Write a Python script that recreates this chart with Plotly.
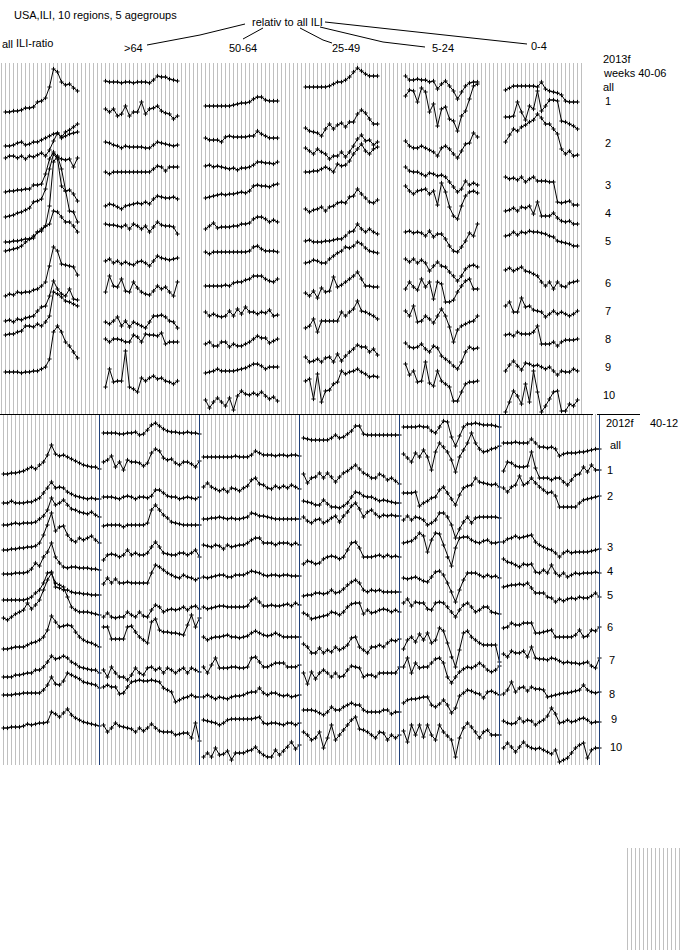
import plotly.graph_objects as go

# USA ILI, 10 regions, ILI share of each agegroup relative to all ILI
AGE_GROUPS = ["all", ">64", "50-64", "25-49", "5-24", "0-4"]
REGIONS = ["all"] + [str(r) for r in range(1, 11)]
WEEKS_2013F = list(range(40, 53)) + list(range(1, 7))
WEEKS_2012F = list(range(40, 53)) + list(range(1, 13))

# levels, one row per region (all, 1..10)
# season 2013f, weeks 40-06
top_all_ili = [
    [302, 302, 303, 303, 304, 306, 306, 307, 312, 313, 316, 327, 345, 342, 332, 329, 330, 326, 323],
    [268, 268, 269, 271, 272, 269, 270, 272, 272, 274, 276, 278, 280, 281, 277, 282, 284, 287, 290],
    [256, 258, 258, 256, 258, 255, 258, 257, 259, 261, 258, 264, 273, 281, 276, 278, 280, 281, 282],
    [222, 223, 223, 224, 224, 225, 225, 229, 229, 230, 240, 255, 262, 257, 255, 254, 255, 247, 256],
    [197, 198, 199, 201, 202, 204, 206, 212, 213, 215, 225, 245, 260, 255, 228, 223, 224, 220, 213],
    [172, 172, 173, 173, 174, 175, 175, 176, 182, 183, 188, 208, 252, 258, 245, 223, 203, 202, 192],
    [163, 164, 165, 166, 168, 172, 175, 178, 182, 185, 188, 190, 203, 202, 197, 192, 192, 188, 182],
    [118, 120, 119, 122, 121, 122, 122, 124, 125, 128, 132, 148, 167, 163, 150, 149, 148, 147, 139],
    [93, 94, 92, 95, 94, 96, 97, 98, 103, 107, 108, 118, 133, 125, 120, 118, 125, 115, 114],
    [79, 80, 80, 82, 83, 88, 88, 87, 90, 88, 92, 98, 122, 120, 117, 113, 112, 110, 108],
    [42, 42, 42, 42, 41, 42, 42, 43, 43, 45, 47, 55, 82, 88, 82, 72, 68, 62, 56],
]
top_65 = [
    [333, 332, 332, 332, 331, 332, 332, 331, 332, 332, 332, 331, 334, 338, 337, 337, 335, 334, 333],
    [305, 302, 305, 298, 300, 308, 298, 302, 302, 312, 300, 305, 306, 308, 303, 301, 300, 295, 298],
    [272, 271, 269, 268, 266, 268, 267, 267, 267, 267, 266, 266, 269, 272, 271, 270, 269, 268, 269],
    [242, 240, 242, 242, 242, 242, 242, 242, 242, 242, 242, 242, 245, 248, 247, 243, 247, 247, 247],
    [208, 210, 209, 207, 205, 208, 209, 210, 211, 210, 212, 210, 215, 218, 217, 216, 216, 217, 215],
    [190, 189, 189, 188, 187, 189, 185, 190, 188, 185, 188, 182, 187, 192, 189, 188, 188, 187, 180],
    [153, 155, 151, 153, 150, 152, 150, 149, 152, 153, 151, 148, 153, 158, 156, 155, 154, 155, 156],
    [122, 138, 128, 127, 135, 123, 122, 132, 126, 122, 120, 119, 123, 128, 125, 127, 122, 118, 132],
    [92, 90, 93, 97, 88, 93, 87, 92, 90, 88, 86, 92, 98, 98, 99, 97, 93, 92, 86],
    [75, 72, 75, 75, 74, 72, 72, 79, 77, 72, 80, 79, 79, 78, 81, 70, 72, 72, 72],
    [27, 45, 32, 33, 33, 63, 27, 25, 22, 36, 33, 36, 38, 35, 36, 33, 32, 30, 33],
]
top_50_64 = [
    [308, 308, 308, 308, 308, 308, 308, 309, 310, 311, 311, 312, 315, 317, 317, 314, 313, 313, 313],
    [276, 274, 274, 274, 272, 277, 278, 277, 277, 277, 277, 278, 278, 283, 280, 278, 276, 276, 276],
    [248, 249, 247, 248, 247, 246, 245, 246, 244, 246, 246, 247, 249, 252, 252, 251, 251, 250, 252],
    [216, 217, 218, 219, 220, 219, 220, 220, 221, 222, 221, 223, 228, 229, 228, 228, 227, 229, 230],
    [185, 188, 191, 186, 187, 187, 187, 188, 188, 190, 190, 191, 195, 197, 197, 195, 192, 194, 192],
    [162, 160, 162, 162, 162, 162, 162, 162, 162, 162, 162, 163, 167, 168, 165, 163, 163, 163, 162],
    [128, 128, 128, 128, 128, 129, 128, 131, 132, 132, 134, 135, 138, 138, 138, 135, 133, 132, 135],
    [102, 98, 100, 98, 97, 98, 103, 98, 105, 100, 107, 102, 102, 100, 102, 101, 104, 98, 99],
    [70, 72, 68, 68, 72, 72, 67, 70, 68, 68, 70, 72, 75, 78, 76, 76, 71, 73, 75],
    [41, 42, 43, 45, 43, 43, 43, 43, 44, 45, 46, 48, 50, 50, 48, 45, 47, 47, 47],
    [14, 6, 12, 16, 12, 8, 16, 4, 18, 23, 20, 19, 21, 19, 22, 18, 15, 17, 13],
]
top_25_49 = [
    [327, 327, 327, 327, 327, 327, 328, 330, 332, 332, 334, 337, 342, 346, 343, 340, 338, 338, 338],
    [286, 283, 282, 281, 278, 285, 290, 285, 289, 291, 287, 292, 292, 300, 304, 301, 295, 290, 290],
    [266, 263, 260, 265, 262, 260, 255, 258, 258, 262, 257, 262, 268, 275, 279, 273, 274, 269, 272],
    [242, 242, 243, 243, 245, 247, 245, 242, 250, 248, 249, 253, 260, 265, 270, 263, 260, 265, 267],
    [205, 202, 204, 205, 207, 203, 207, 208, 211, 212, 211, 217, 218, 225, 220, 216, 212, 211, 214],
    [173, 174, 172, 172, 172, 173, 173, 174, 175, 175, 178, 182, 183, 190, 185, 182, 185, 182, 180],
    [151, 152, 154, 153, 151, 151, 155, 158, 161, 163, 167, 166, 168, 172, 170, 166, 163, 162, 161],
    [121, 118, 123, 116, 126, 122, 123, 137, 127, 129, 132, 135, 138, 142, 135, 128, 128, 127, 127],
    [86, 88, 95, 82, 93, 93, 93, 93, 93, 102, 98, 102, 105, 113, 103, 102, 100, 98, 95],
    [57, 52, 53, 55, 52, 56, 57, 52, 60, 53, 58, 62, 65, 69, 67, 67, 62, 65, 59],
    [33, 35, 15, 40, 12, 23, 24, 30, 32, 43, 40, 42, 43, 45, 42, 40, 37, 38, 37],
]
top_5_24 = [
    [338, 334, 334, 335, 334, 334, 332, 333, 325, 330, 333, 328, 323, 315, 322, 328, 331, 332, 332],
    [318, 324, 323, 312, 326, 322, 302, 310, 288, 305, 307, 295, 293, 283, 298, 303, 315, 328, 330],
    [273, 268, 266, 266, 268, 266, 264, 262, 258, 266, 268, 265, 260, 256, 263, 270, 271, 281, 277],
    [247, 243, 242, 242, 240, 238, 241, 240, 238, 239, 237, 232, 227, 222, 225, 233, 229, 231, 229],
    [228, 223, 220, 223, 224, 225, 220, 223, 209, 231, 222, 207, 198, 195, 208, 218, 222, 223, 221],
    [182, 183, 181, 182, 181, 178, 183, 177, 180, 180, 175, 168, 163, 162, 167, 173, 181, 178, 190],
    [155, 152, 155, 151, 154, 151, 143, 148, 152, 148, 147, 142, 138, 133, 138, 145, 148, 149, 147],
    [125, 132, 127, 124, 135, 127, 132, 115, 132, 130, 112, 112, 114, 122, 128, 133, 135, 125, 125],
    [103, 98, 108, 92, 93, 98, 95, 91, 98, 105, 98, 87, 72, 84, 88, 90, 92, 93, 98],
    [71, 67, 66, 67, 70, 65, 62, 68, 66, 58, 55, 52, 48, 45, 52, 62, 67, 65, 66],
    [50, 39, 43, 32, 33, 52, 31, 28, 43, 33, 30, 27, 13, 13, 22, 30, 32, 32, 33],
]
top_0_4 = [
    [324, 326, 328, 328, 328, 328, 328, 328, 327, 332, 325, 323, 322, 321, 319, 313, 312, 312, 312],
    [297, 297, 298, 312, 302, 294, 308, 305, 323, 303, 308, 314, 314, 313, 293, 292, 290, 288, 285],
    [272, 279, 285, 283, 287, 289, 292, 294, 300, 296, 290, 290, 285, 280, 265, 260, 263, 258, 259],
    [237, 235, 236, 234, 237, 232, 235, 237, 233, 233, 233, 232, 232, 212, 211, 212, 213, 209, 209],
    [203, 204, 206, 203, 207, 206, 208, 200, 212, 198, 198, 198, 201, 196, 193, 192, 193, 190, 190],
    [178, 179, 182, 179, 182, 181, 183, 182, 182, 181, 180, 178, 177, 173, 172, 171, 170, 168, 168],
    [144, 146, 143, 145, 147, 143, 142, 140, 138, 132, 128, 132, 125, 132, 128, 127, 131, 132, 133],
    [108, 112, 102, 102, 116, 107, 108, 104, 103, 102, 97, 100, 103, 100, 102, 100, 98, 100, 103],
    [79, 80, 78, 82, 80, 80, 80, 82, 88, 70, 70, 70, 72, 68, 72, 74, 74, 74, 75],
    [43, 49, 53, 48, 44, 51, 50, 48, 49, 47, 45, 47, 43, 39, 43, 42, 42, 45, 43],
    [2, 12, 23, 18, 10, 30, 12, 43, 22, 2, 8, 15, 22, 23, 3, 3, 10, 8, 14],
]

# season 2012f, weeks 40-12
bot_all_ili = [
    [291, 291, 292, 292, 293, 294, 296, 298, 296, 300, 303, 310, 320, 311, 309, 310, 308, 306, 304, 302, 300, 299, 298, 298, 296],
    [262, 262, 264, 262, 262, 262, 263, 263, 265, 267, 272, 277, 283, 277, 278, 277, 273, 271, 269, 268, 267, 266, 267, 266, 266],
    [240, 240, 241, 242, 241, 242, 242, 242, 243, 246, 249, 255, 267, 260, 262, 265, 260, 256, 255, 253, 252, 251, 253, 250, 248],
    [215, 215, 216, 216, 217, 217, 218, 218, 219, 222, 230, 240, 252, 234, 238, 239, 230, 225, 223, 227, 225, 227, 229, 225, 222],
    [191, 191, 191, 192, 192, 192, 193, 196, 202, 199, 208, 213, 222, 208, 202, 198, 197, 198, 198, 197, 197, 197, 196, 196, 195],
    [165, 165, 165, 165, 165, 165, 166, 168, 172, 175, 182, 192, 193, 178, 177, 175, 175, 173, 172, 172, 171, 171, 170, 170, 170],
    [147, 145, 148, 151, 153, 155, 162, 156, 160, 165, 175, 185, 192, 182, 180, 178, 168, 158, 155, 153, 153, 153, 152, 151, 150],
    [116, 116, 117, 118, 118, 118, 120, 122, 123, 125, 128, 135, 149, 143, 138, 139, 140, 139, 133, 128, 125, 123, 122, 120, 118],
    [88, 88, 88, 90, 90, 91, 92, 92, 95, 95, 98, 103, 109, 106, 107, 109, 107, 103, 101, 98, 97, 96, 95, 95, 92],
    [70, 70, 70, 71, 71, 72, 72, 72, 72, 72, 75, 80, 88, 81, 80, 84, 92, 90, 88, 86, 83, 82, 81, 80, 77],
    [37, 37, 38, 38, 38, 39, 41, 40, 41, 42, 42, 43, 53, 51, 48, 52, 56, 50, 47, 45, 43, 42, 41, 40, 39],
]
bot_65 = [
    [332, 332, 332, 332, 331, 331, 332, 332, 333, 330, 331, 335, 340, 342, 339, 336, 334, 333, 333, 332, 332, 333, 332, 332, 331],
    [303, 305, 309, 298, 303, 295, 305, 303, 303, 302, 299, 302, 312, 316, 314, 307, 305, 306, 302, 300, 303, 303, 301, 298, 304],
    [268, 268, 268, 267, 266, 268, 269, 268, 266, 268, 268, 267, 269, 275, 275, 272, 269, 268, 268, 266, 267, 268, 267, 266, 268],
    [239, 240, 240, 240, 240, 238, 240, 240, 240, 240, 240, 242, 255, 260, 255, 250, 247, 243, 242, 241, 240, 240, 240, 240, 240],
    [205, 210, 211, 210, 208, 210, 215, 210, 212, 210, 210, 212, 218, 223, 218, 212, 211, 210, 210, 212, 212, 210, 212, 215, 208],
    [181, 187, 182, 186, 182, 182, 183, 182, 182, 182, 182, 182, 192, 200, 198, 195, 192, 190, 188, 187, 190, 188, 187, 185, 187],
    [148, 152, 148, 147, 148, 148, 153, 150, 148, 153, 149, 148, 155, 160, 158, 153, 155, 156, 155, 156, 158, 155, 158, 159, 156],
    [138, 138, 126, 126, 126, 126, 138, 139, 133, 128, 125, 122, 143, 146, 135, 133, 133, 132, 132, 131, 130, 140, 150, 138, 147],
    [95, 88, 98, 92, 88, 88, 85, 90, 97, 92, 90, 97, 98, 95, 97, 92, 97, 95, 92, 95, 97, 92, 97, 95, 93],
    [78, 80, 78, 78, 71, 72, 78, 83, 84, 85, 84, 84, 85, 84, 83, 77, 75, 73, 63, 65, 67, 68, 70, 68, 68],
    [40, 33, 37, 42, 39, 38, 37, 36, 33, 37, 34, 37, 41, 37, 34, 33, 33, 33, 30, 31, 32, 32, 27, 42, 24],
]
bot_50_64 = [
    [308, 308, 308, 308, 308, 308, 308, 308, 309, 308, 308, 308, 310, 314, 312, 310, 310, 310, 309, 310, 310, 309, 310, 310, 309],
    [278, 282, 278, 276, 274, 276, 273, 277, 276, 274, 277, 279, 285, 287, 281, 280, 277, 276, 279, 277, 279, 277, 280, 278, 276],
    [246, 246, 247, 247, 248, 247, 246, 247, 246, 246, 247, 248, 252, 251, 249, 249, 248, 247, 246, 246, 246, 246, 246, 246, 246],
    [220, 219, 218, 220, 219, 216, 220, 218, 219, 220, 220, 222, 225, 227, 227, 222, 222, 222, 220, 222, 222, 222, 220, 222, 220],
    [188, 187, 188, 189, 190, 190, 188, 188, 190, 190, 190, 192, 194, 193, 192, 190, 189, 190, 190, 189, 190, 190, 189, 189, 189],
    [158, 156, 157, 158, 159, 159, 158, 158, 158, 158, 158, 159, 165, 167, 163, 159, 159, 160, 159, 159, 160, 161, 159, 162, 160],
    [128, 125, 127, 128, 128, 129, 130, 128, 128, 127, 128, 129, 132, 134, 132, 130, 129, 130, 132, 130, 128, 128, 128, 128, 128],
    [98, 92, 100, 107, 97, 97, 97, 98, 98, 97, 97, 98, 107, 108, 103, 98, 98, 100, 102, 102, 102, 98, 98, 98, 100],
    [68, 70, 68, 66, 68, 67, 66, 68, 69, 69, 70, 72, 73, 73, 77, 72, 70, 72, 72, 70, 69, 70, 68, 69, 70],
    [45, 44, 43, 42, 40, 42, 45, 46, 46, 46, 46, 46, 46, 47, 48, 42, 41, 42, 42, 41, 40, 42, 42, 40, 42],
    [8, 12, 8, 17, 10, 11, 14, 5, 12, 12, 12, 14, 15, 18, 13, 10, 8, 8, 15, 10, 14, 18, 23, 16, 20],
]
bot_25_49 = [
    [327, 326, 325, 325, 325, 325, 325, 327, 330, 327, 328, 331, 334, 339, 339, 331, 330, 330, 330, 330, 330, 330, 330, 330, 330],
    [291, 282, 287, 288, 292, 287, 292, 288, 283, 288, 292, 294, 297, 300, 296, 292, 290, 287, 287, 291, 289, 285, 287, 284, 281],
    [264, 263, 262, 260, 260, 265, 261, 258, 258, 257, 259, 262, 268, 273, 272, 269, 268, 268, 266, 264, 265, 264, 263, 262, 262],
    [248, 244, 242, 245, 246, 242, 244, 247, 249, 243, 249, 253, 259, 262, 256, 248, 253, 255, 251, 248, 250, 249, 250, 249, 249],
    [201, 204, 203, 201, 202, 206, 208, 209, 208, 206, 208, 215, 222, 223, 217, 208, 208, 208, 209, 210, 208, 210, 208, 209, 208],
    [169, 170, 170, 172, 172, 171, 172, 175, 172, 173, 176, 180, 183, 185, 182, 175, 173, 175, 174, 175, 173, 173, 173, 173, 173],
    [152, 150, 146, 147, 148, 149, 150, 153, 152, 150, 153, 158, 161, 162, 162, 151, 155, 152, 153, 155, 156, 155, 153, 155, 153],
    [121, 118, 112, 112, 117, 112, 115, 113, 118, 115, 117, 120, 127, 128, 118, 115, 112, 118, 118, 120, 118, 122, 125, 124, 126],
    [92, 81, 93, 86, 92, 95, 92, 88, 92, 88, 89, 95, 99, 98, 97, 88, 90, 90, 88, 92, 92, 92, 92, 92, 98],
    [55, 55, 55, 54, 52, 50, 53, 58, 55, 55, 58, 60, 62, 60, 60, 55, 53, 53, 53, 53, 55, 55, 51, 53, 53],
    [33, 30, 25, 27, 33, 17, 27, 40, 25, 30, 35, 40, 45, 48, 36, 35, 33, 30, 27, 33, 32, 25, 30, 27, 30],
]
bot_5_24 = [
    [338, 338, 338, 338, 339, 338, 338, 334, 332, 338, 344, 343, 328, 319, 329, 338, 341, 341, 342, 341, 340, 340, 340, 339, 338],
    [311, 307, 303, 312, 308, 315, 308, 295, 313, 322, 318, 313, 305, 293, 308, 315, 322, 332, 322, 316, 313, 314, 316, 317, 319],
    [272, 272, 272, 273, 259, 262, 264, 267, 268, 275, 278, 272, 266, 260, 270, 277, 279, 280, 287, 283, 282, 281, 280, 281, 278],
    [245, 249, 245, 248, 247, 245, 240, 242, 245, 252, 252, 248, 240, 227, 236, 243, 248, 242, 247, 248, 248, 248, 248, 248, 247],
    [222, 223, 224, 227, 232, 229, 213, 225, 232, 231, 220, 208, 199, 217, 227, 228, 228, 225, 223, 222, 224, 225, 222, 222, 223],
    [187, 186, 187, 188, 186, 184, 183, 188, 193, 194, 190, 182, 173, 163, 175, 185, 192, 192, 192, 190, 188, 190, 188, 189, 187],
    [162, 166, 159, 163, 162, 162, 156, 155, 162, 163, 162, 158, 153, 148, 155, 160, 162, 158, 153, 155, 158, 158, 153, 152, 151],
    [116, 125, 128, 123, 131, 125, 132, 122, 125, 137, 134, 122, 108, 98, 115, 132, 134, 128, 125, 122, 120, 120, 120, 120, 103],
    [98, 107, 92, 102, 97, 98, 98, 102, 106, 107, 102, 88, 82, 88, 93, 96, 98, 97, 99, 102, 99, 95, 93, 95, 99],
    [62, 65, 66, 66, 67, 68, 68, 60, 58, 61, 65, 60, 52, 57, 69, 72, 75, 74, 72, 71, 67, 73, 74, 72, 70],
    [34, 23, 40, 30, 40, 28, 40, 30, 25, 40, 33, 29, 25, 8, 27, 37, 42, 38, 33, 27, 33, 35, 30, 30, 30],
]
bot_0_4 = [
    [322, 322, 322, 323, 322, 322, 322, 326, 322, 318, 318, 317, 318, 316, 309, 311, 312, 312, 312, 313, 313, 314, 315, 316, 316],
    [294, 303, 302, 299, 298, 298, 299, 313, 297, 287, 287, 287, 285, 287, 287, 283, 280, 285, 290, 291, 298, 293, 300, 295, 295],
    [277, 273, 278, 280, 289, 280, 282, 287, 282, 278, 275, 272, 273, 269, 258, 258, 258, 258, 258, 262, 265, 266, 267, 268, 269],
    [223, 226, 227, 229, 227, 228, 229, 230, 223, 220, 218, 216, 215, 212, 208, 212, 214, 212, 213, 213, 213, 213, 214, 215, 216],
    [206, 203, 202, 200, 198, 201, 200, 201, 193, 192, 195, 192, 200, 192, 189, 192, 188, 190, 192, 191, 192, 192, 192, 193, 192],
    [178, 179, 180, 180, 181, 180, 182, 177, 172, 172, 172, 168, 167, 163, 166, 164, 166, 167, 166, 168, 167, 167, 169, 172, 168],
    [137, 138, 142, 140, 140, 142, 142, 142, 132, 132, 133, 134, 135, 128, 128, 128, 128, 128, 130, 135, 128, 129, 135, 134, 138],
    [111, 108, 114, 112, 112, 114, 108, 118, 107, 106, 106, 105, 107, 106, 104, 102, 103, 102, 102, 101, 102, 103, 99, 97, 107],
    [71, 75, 83, 73, 77, 78, 74, 78, 76, 76, 75, 68, 69, 70, 71, 72, 72, 73, 74, 75, 80, 75, 73, 72, 73],
    [44, 42, 41, 42, 47, 43, 45, 44, 40, 43, 45, 49, 57, 51, 42, 43, 45, 43, 44, 46, 47, 45, 42, 43, 43],
    [17, 22, 18, 13, 18, 23, 19, 17, 16, 17, 15, 13, 11, 15, 3, 5, 7, 12, 17, 20, 22, 7, 15, 17, 17],
]

# page layout (pixels)
W, H = 700, 950
TOP_Y0, TOP_Y1 = 63, 414      # panel 2013f
BOT_Y0, BOT_Y1 = 414, 765     # panel 2012f
COL_W = 100
STEP = 4
FONT = dict(family="Liberation Sans, Arial, sans-serif", size=11, color="black")
GRID = "#c0c0c0"

fig = go.Figure()

# vertical week grid
def grid_trace(x_first, x_last, y0, y1):
    xs, ys = [], []
    x = x_first
    while x <= x_last:
        xs += [x, x, None]
        ys += [y0, y1, None]
        x += STEP
    return go.Scatter(x=xs, y=ys, mode="lines", line=dict(color=GRID, width=1),
                      hoverinfo="skip", showlegend=False, yaxis="y")

fig.add_trace(grid_trace(1.5, 582, TOP_Y0, TOP_Y1))
fig.add_trace(grid_trace(3.5, 600, BOT_Y0, BOT_Y1))
fig.add_trace(grid_trace(627.5, 680, 848, 950))

panels = [
    (WEEKS_2013F, [top_all_ili, top_65, top_50_64, top_25_49, top_5_24, top_0_4], "y2", 5.5),
    (WEEKS_2012F, [bot_all_ili, bot_65, bot_50_64, bot_25_49, bot_5_24, bot_0_4], "y3", 3.5),
]
for weeks, cols, yax, x0 in panels:
    for c, col in enumerate(cols):
        for r, levels in enumerate(col):
            xs = [c * COL_W + x0 + STEP * i for i in range(len(levels))]
            fig.add_trace(go.Scatter(
                x=xs, y=levels, yaxis=yax, mode="lines+markers",
                line=dict(color="black", width=1),
                marker=dict(symbol="cross-thin", size=3, line=dict(color="black", width=1)),
                name=f"{AGE_GROUPS[c]} region {REGIONS[r]}",
                hoverinfo="skip", showlegend=False))

shapes = []
# column separators of the lower panel
for k in range(1, 7):
    shapes.append(dict(type="line", xref="x", yref="y", x0=k * COL_W - 0.5, x1=k * COL_W - 0.5,
                       y0=BOT_Y0, y1=BOT_Y1, line=dict(color="#1f3f78", width=1)))
# panel divider
shapes.append(dict(type="line", xref="x", yref="y", x0=0, x1=593, y0=414.5, y1=414.5,
                   line=dict(color="black", width=1)))
shapes.append(dict(type="line", xref="x", yref="y", x0=597, x1=640, y0=414.5, y1=414.5,
                   line=dict(color="black", width=1)))
# leader lines from "relativ to all ILI"
for p in ["M 147,45 L 200,35 L 245,24", "M 243,39 L 263,28", "M 300,28 L 323,40 L 332,43",
          "M 320,27 L 383,42 L 425,47", "M 325,22 L 527,44"]:
    shapes.append(dict(type="path", xref="x", yref="y", path=p, line=dict(color="black", width=1)))

texts = [
    ("USA,ILI, 10 regions, 5 agegroups", 12, 15),
    ("relativ to all ILI", 250, 22),
    ("all", 0, 44), ("ILI-ratio", 14, 43),
    (AGE_GROUPS[1], 122, 48), (AGE_GROUPS[2], 227, 48), (AGE_GROUPS[3], 330, 48),
    (AGE_GROUPS[4], 430, 48), (AGE_GROUPS[5], 529, 46),
    ("2013f", 601, 59), ("weeks 40-06", 601, 73),
    ("2012f", 604, 423), ("40-12", 648, 423),
]
TOP_LABEL_Y = [87, 101, 143, 185, 213, 241, 283, 311, 339, 367, 395]
BOT_LABEL_Y = [445, 470, 496, 547, 571, 595, 627, 660, 694, 719, 747]
BOT_LABEL_X = [608, 605, 605, 605, 605, 605, 605, 607, 607, 609, 608]
for r, name in enumerate(REGIONS):
    texts.append((name, 601 if r in (0, 10) else 603, TOP_LABEL_Y[r]))
    texts.append((name, BOT_LABEL_X[r], BOT_LABEL_Y[r]))

annotations = [dict(text=t, x=x, y=y, xref="x", yref="y", xanchor="left", yanchor="middle",
                    showarrow=False, font=FONT) for t, x, y in texts]

fig.update_layout(
    width=W, height=H, margin=dict(l=0, r=0, t=0, b=0),
    paper_bgcolor="white", plot_bgcolor="rgba(0,0,0,0)",
    showlegend=False, shapes=shapes, annotations=annotations,
    xaxis=dict(range=[0, W], domain=[0, 1], visible=False, fixedrange=True),
    yaxis=dict(range=[H, 0], domain=[0, 1], visible=False, fixedrange=True),
    yaxis2=dict(range=[0, TOP_Y1 - TOP_Y0], domain=[(H - TOP_Y1) / H, (H - TOP_Y0) / H],
                anchor="x", visible=False, fixedrange=True),
    yaxis3=dict(range=[0, BOT_Y1 - BOT_Y0], domain=[(H - BOT_Y1) / H, (H - BOT_Y0) / H],
                anchor="x", visible=False, fixedrange=True),
)

# the page body has a default 8px margin; drop it so the chart sits at the window corner
fig.write_html("out.html", config={"displayModeBar": False},
               post_script="document.body.style.margin='0';")
